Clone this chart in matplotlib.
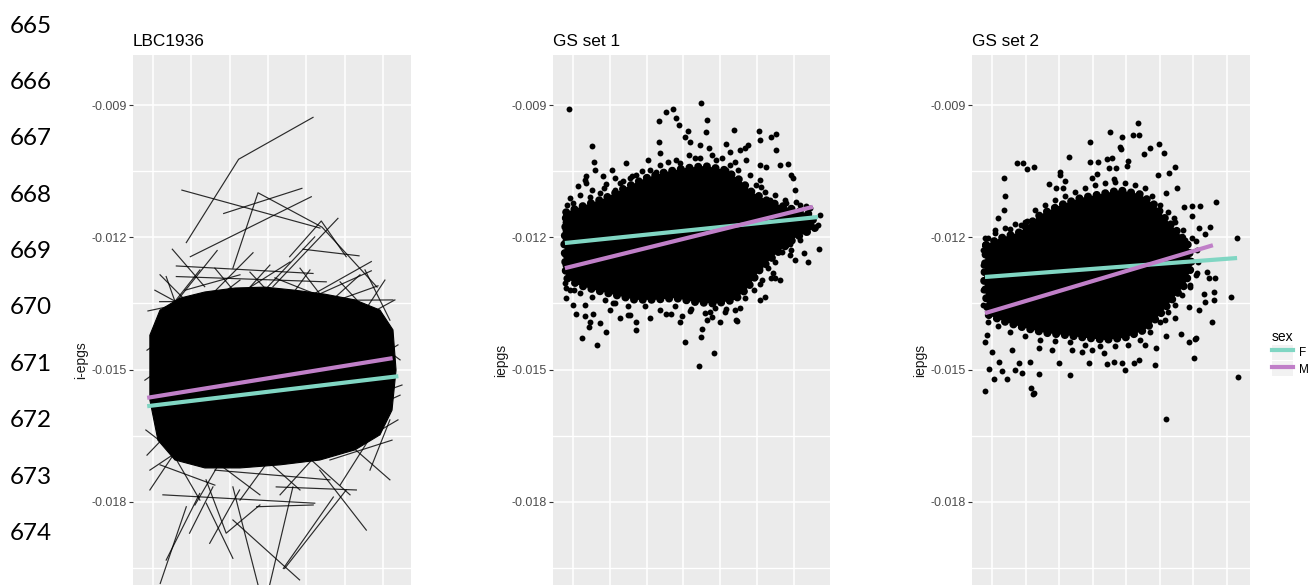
import matplotlib
matplotlib.use("Agg")
import matplotlib.pyplot as plt
import numpy as np
from matplotlib.lines import Line2D
from matplotlib.patches import Patch
from matplotlib.legend_handler import HandlerTuple
from matplotlib.ticker import FixedLocator, FuncFormatter

plt.rcParams["font.family"] = ["Liberation Sans", "DejaVu Sans"]

# ---------------------------------------------------------------------------
# Data (iepgs values in units of 1e-3, x = age)
# ---------------------------------------------------------------------------
panel_titles = ["LBC1936", "GS set 1", "GS set 2"]
y_labels = ["i-epgs", "iepgs", "iepgs"]
sex_labels = ["F", "M"]
line_numbers = ["665", "666", "667", "668", "669", "670", "671", "672", "673", "674"]
y_ticks = [-0.018, -0.015, -0.012, -0.009]
y_minor = [-0.0195, -0.0165, -0.0135, -0.0105, -0.0075]

# fitted lines per sex: (x0, x1), (y0, y1)
lbc_fit = {"F": ([69.7, 82.8], [-15.83, -15.15]), "M": ([69.7, 82.5], [-15.64, -14.74])}
gs1_fit = {"F": ([17.8, 86.6], [-12.13, -11.54]), "M": ([17.8, 85.2], [-12.70, -11.31])}
gs2_fit = {"F": ([17.9, 93.0], [-12.90, -12.47]), "M": ([17.9, 85.8], [-13.72, -12.18])}

# outline of the saturated (fully overplotted) part of each cloud
lbc_core = [(69.84, -14.22), (70.37, -13.65), (71.41, -13.38), (72.71, -13.24), (74.28, -13.15),
            (75.84, -13.13), (77.41, -13.20), (78.97, -13.29), (80.54, -13.42), (81.84, -13.65),
            (82.52, -14.10), (82.68, -15.01), (82.47, -15.92), (81.84, -16.48), (80.54, -16.82),
            (78.71, -17.05), (76.63, -17.16), (74.54, -17.23), (72.71, -17.23), (71.15, -17.05),
            (70.26, -16.60), (69.84, -15.69)]
gs1_core = [(18.1, -11.43), (23.3, -11.27), (28.7, -11.11), (34.1, -10.88), (39.6, -10.66),
            (45.0, -10.52), (50.4, -10.43), (55.9, -10.38), (61.3, -10.47), (65.4, -10.70),
            (68.6, -10.97), (73.5, -11.20), (79.0, -11.34), (84.9, -11.49), (85.8, -11.79),
            (80.3, -12.02), (74.9, -12.40), (70.8, -12.74), (67.5, -13.15), (64.0, -13.42),
            (58.6, -13.51), (53.1, -13.47), (47.7, -13.38), (42.3, -13.42), (36.8, -13.42),
            (31.4, -13.31), (26.0, -13.20), (21.4, -13.08), (18.1, -12.92), (17.6, -12.17)]
gs2_core = [(18.2, -12.17), (22.4, -12.02), (28.3, -11.88), (34.3, -11.49), (40.3, -11.27),
            (46.2, -11.11), (52.2, -11.02), (58.1, -10.93), (64.1, -11.02), (68.6, -11.27),
            (71.5, -11.56), (75.4, -11.88), (78.4, -12.17), (79.6, -12.63), (77.5, -13.08),
            (73.6, -13.42), (70.0, -13.76), (65.6, -14.10), (59.6, -14.28), (53.7, -14.33),
            (47.7, -14.28), (41.7, -14.22), (35.8, -14.17), (29.8, -14.06), (23.9, -13.92),
            (18.8, -13.76), (17.6, -12.97)]

# individual LBC1936 trajectories outside the saturated core
lbc_traj_x = [[71.74, 74.47, 78.35], [71.51, 78.71], [73.69, 77.77], [71.95, 78.26],
              [74.17, 75.48, 78.82, 81.69], [79.65, 76.26], [77.13, 78.78, 80.08], [77.83, 80.75],
              [71.01, 72.70], [73.35, 70.17], [71.22, 78.35], [71.22, 79.04], [70.35, 82.52],
              [70.69, 71.74], [81.39, 76.61], [81.39, 78.00], [81.74, 78.70], [75.22, 72.78],
              [78.44, 74.70],
              [70.69, 72.44], [70.38, 71.74], [72.77, 73.82, 75.58], [74.17, 72.78], [75.48, 74.17],
              [76.09, 77.30], [76.87, 80.08], [77.65, 74.17], [81.13, 78.70], [70.52, 78.44],
              [72.96, 74.52], [71.91, 73.13], [80.61, 76.43], [75.41, 78.36], [76.80, 79.41],
              [69.69, 72.45], [69.58, 72.19], [69.84, 72.97], [82.78, 79.76], [82.89, 80.02],
              [82.47, 79.23], [82.62, 79.76], [70.10, 72.97], [69.74, 72.45]]
lbc_traj_y = [[-12.12, -10.23, -9.28], [-10.93, -11.79], [-11.46, -10.89], [-12.44, -11.08],
              [-12.70, -10.99, -11.77, -13.13], [-11.57, -13.12], [-12.44, -11.63, -12.44], [-12.27, -12.42],
              [-12.27, -13.12], [-12.30, -14.03], [-12.65, -12.82], [-12.89, -13.01], [-13.46, -13.42],
              [-12.89, -14.18], [-12.55, -13.72], [-12.76, -13.42], [-13.10, -13.57], [-12.35, -13.42],
              [-11.99, -13.72],
              [-19.32, -17.81], [-19.85, -18.11], [-17.50, -18.71, -18.07], [-19.28, -18.03], [-19.88, -17.66],
              [-19.88, -17.66], [-19.51, -17.73], [-19.77, -18.41], [-18.64, -17.28], [-17.84, -18.03],
              [-18.94, -17.73], [-18.71, -17.66], [-17.73, -17.66], [-18.11, -18.07], [-19.51, -17.89],
              [-16.94, -15.69], [-15.24, -14.44], [-17.28, -16.37], [-14.44, -15.24], [-15.58, -16.14],
              [-16.60, -17.05], [-13.42, -14.10], [-13.20, -13.88], [-13.67, -13.42]]
# trajectories crossing the edge of the saturated core
lbc_edge_x = [[70.37, 72.45], [71.15, 74.54], [72.45, 70.37], [73.50, 76.10], [75.06, 73.23],
              [76.10, 78.19], [77.15, 75.06], [78.19, 80.80], [79.76, 77.67], [80.80, 82.10],
              [81.84, 79.76], [82.36, 81.06], [74.02, 77.15], [71.67, 74.54], [79.23, 76.36],
              [70.63, 72.45], [71.41, 69.84], [72.45, 75.58], [74.02, 72.19], [75.32, 77.67],
              [76.63, 74.54], [77.67, 80.28], [79.23, 76.63], [80.28, 82.36], [81.58, 79.76],
              [82.36, 81.32], [73.23, 79.23], [70.37, 73.23],
              [69.69, 71.93], [69.63, 71.67], [82.89, 80.80], [82.78, 80.54], [82.99, 80.80]]
lbc_edge_y = [[-13.88, -12.74], [-14.10, -12.97], [-13.76, -12.85], [-13.88, -12.63], [-13.65, -12.70],
              [-13.99, -12.74], [-13.76, -12.79], [-13.88, -12.85], [-13.88, -12.70], [-13.83, -12.97],
              [-13.99, -13.01], [-13.88, -12.74], [-13.42, -12.56], [-13.20, -12.85], [-13.42, -12.92],
              [-16.60, -17.96], [-16.71, -17.73], [-16.82, -17.84], [-16.71, -18.07], [-16.82, -17.73],
              [-16.71, -17.96], [-16.82, -17.84], [-16.60, -17.84], [-16.71, -17.50], [-16.37, -17.62],
              [-16.14, -17.28], [-17.28, -17.50], [-17.16, -17.62],
              [-14.56, -13.88], [-16.37, -17.05], [-14.78, -14.10], [-16.14, -16.71], [-15.35, -15.69]]

# GS points outside the saturated core
gs1_points = [(18.8, -9.09), (54.8, -8.95), (45.3, -9.16), (47.2, -9.09), (43.4, -9.36), (48.0, -9.30),
              (48.8, -9.45), (56.4, -9.34), (51.3, -9.59), (56.1, -9.61), (63.7, -9.57), (70.5, -9.59),
              (75.2, -9.66), (73.8, -9.73), (70.8, -9.79), (25.2, -9.93), (43.4, -9.84), (43.6, -10.09),
              (50.4, -9.73), (51.8, -9.84), (57.0, -9.98), (61.6, -9.88), (62.7, -10.07), (67.5, -9.91),
              (66.7, -9.98), (75.2, -10.02), (25.7, -10.29), (34.4, -10.32), (26.0, -10.47), (23.5, -10.61),
              (21.4, -10.84), (28.2, -10.61), (31.4, -10.66), (33.6, -10.72), (35.5, -10.66), (37.1, -10.59),
              (38.7, -10.50), (23.5, -10.77), (29.0, -10.79), (76.2, -10.36), (78.4, -10.34), (79.2, -10.59),
              (79.8, -10.66), (72.4, -10.41), (67.0, -10.25), (64.0, -10.29), (70.8, -10.70), (71.1, -10.86),
              (18.4, -11.27), (20.0, -11.22), (24.6, -11.09), (27.3, -11.00), (80.6, -11.20), (77.9, -11.22),
              (83.3, -11.29), (73.8, -11.31), (73.5, -11.15), (51.5, -10.13), (54.5, -10.20), (58.9, -10.25),
              (49.1, -10.32), (42.6, -10.52), (65.4, -10.81), (61.6, -10.47), (57.2, -10.59), (67.5, -11.15),
              (20.8, -13.74), (23.3, -13.78), (25.4, -13.74), (24.6, -13.92), (24.3, -14.03), (27.3, -13.94),
              (29.0, -14.15), (22.4, -14.28), (26.5, -14.44), (37.1, -13.92), (37.1, -14.10), (35.5, -13.76),
              (50.4, -14.37), (54.8, -14.26), (55.0, -14.08), (56.4, -13.88), (64.3, -13.88), (61.6, -13.63),
              (72.2, -13.35), (70.8, -13.06), (73.8, -12.92), (74.9, -12.92), (82.8, -12.36), (83.9, -12.56),
              (86.8, -12.27), (84.7, -11.65), (79.0, -12.40), (79.2, -12.29), (77.9, -12.18), (45.3, -13.74),
              (46.6, -13.74), (52.1, -13.63), (57.2, -13.69), (58.6, -13.60), (30.1, -13.65), (30.9, -13.49),
              (20.0, -13.54), (18.1, -13.38), (18.1, -13.15), (20.3, -13.20), (54.2, -14.92), (58.3, -14.62),
              (64.6, -13.90), (34.9, -13.76), (49.6, -13.78), (57.8, -13.81), (64.0, -13.65), (70.8, -12.67),
              (74.3, -12.81), (73.5, -12.45), (68.9, -12.56), (67.5, -12.33), (17.8, -11.83), (17.8, -12.40),
              (18.1, -12.74), (18.4, -12.17)]
gs1_edge_points = [(19.18, -11.11), (21.90, -11.04), (25.16, -10.93), (28.42, -10.88), (31.41, -10.93),
                   (32.77, -10.77), (36.03, -10.61), (38.20, -10.75), (40.92, -10.47), (43.64, -10.36),
                   (45.81, -10.29), (47.99, -10.25), (53.15, -10.20), (57.77, -10.13), (60.48, -10.20),
                   (62.66, -10.36), (64.83, -10.47), (68.09, -10.59), (69.72, -10.81), (72.17, -10.97),
                   (74.88, -11.04), (77.60, -11.15), (81.68, -11.27), (84.39, -11.34), (87.11, -11.49),
                   (86.57, -11.72), (83.03, -11.88), (81.68, -12.06), (78.96, -12.15), (76.79, -12.33),
                   (74.88, -12.56), (72.98, -12.70), (71.35, -12.97), (69.18, -13.20), (66.73, -13.38),
                   (65.37, -13.60), (61.30, -13.69), (55.86, -13.72), (51.79, -13.67), (47.71, -13.56),
                   (43.64, -13.65), (39.56, -13.56), (34.94, -13.56), (31.41, -13.49), (28.69, -13.42),
                   (25.16, -13.35), (21.90, -13.26), (19.18, -13.20), (17.83, -13.04), (17.83, -12.63),
                   (17.83, -12.06), (17.83, -11.65), (18.10, -11.49),
                   (23.3, -10.70), (30.6, -10.47), (40.4, -10.25), (54.5, -9.91), (65.4, -10.02),
                   (70.8, -10.36), (80.3, -10.93), (80.3, -12.52), (76.2, -12.97), (70.8, -13.42),
                   (59.9, -13.92), (49.1, -13.92), (40.9, -13.83), (32.8, -13.83), (23.3, -13.54)]
gs2_points = [(63.4, -9.40), (55.2, -9.62), (58.7, -9.72), (62.0, -9.68), (63.7, -9.68), (49.3, -9.85),
              (58.2, -9.95), (58.4, -10.00), (69.7, -9.89), (67.2, -9.97), (71.1, -10.08), (65.2, -10.12),
              (42.8, -10.19), (27.4, -10.31), (29.1, -10.31), (30.4, -10.46), (32.6, -10.41), (49.3, -10.29),
              (51.6, -10.29), (54.3, -10.23), (55.7, -10.21), (54.9, -10.42), (56.9, -10.42), (60.5, -10.27),
              (60.2, -10.38), (74.6, -10.41), (72.6, -10.55), (69.4, -10.59), (40.3, -10.51), (40.3, -10.59),
              (23.7, -10.66), (24.0, -11.06), (23.7, -11.37), (21.8, -11.56), (37.1, -10.80), (41.7, -10.72),
              (39.2, -10.89), (41.1, -10.89), (49.8, -10.66), (51.3, -10.56), (56.3, -10.68), (75.1, -10.89),
              (71.9, -10.99), (86.8, -11.20), (82.1, -11.29), (79.6, -11.29), (77.3, -11.31), (85.0, -11.77),
              (81.6, -11.80), (83.5, -11.93), (93.0, -12.02), (79.6, -11.52), (74.1, -11.57), (28.7, -11.72),
              (30.4, -11.62), (25.5, -11.82), (21.0, -11.83), (18.0, -12.02),
              (91.2, -13.36), (93.2, -15.16), (85.5, -13.93), (86.0, -13.42), (86.0, -13.23), (83.1, -13.29),
              (83.5, -13.46), (81.6, -13.65), (78.8, -13.57), (80.1, -14.74), (80.6, -14.31), (78.6, -14.37),
              (76.4, -14.19), (71.9, -14.24), (68.5, -14.90), (74.6, -13.84), (71.6, -13.88), (79.1, -13.12),
              (86.5, -12.92), (84.6, -12.93), (84.0, -12.79), (81.1, -12.82), (80.8, -12.08), (77.6, -12.06),
              (18.0, -15.49), (20.5, -15.22), (24.5, -15.21), (19.0, -14.99), (23.0, -15.03), (26.9, -15.01),
              (28.9, -15.08), (31.7, -15.42), (32.4, -15.54), (33.9, -15.10), (43.3, -15.12), (40.0, -14.86),
              (31.4, -14.82), (22.0, -14.82), (28.0, -14.86), (48.8, -14.86), (54.3, -14.88), (56.3, -14.83),
              (58.7, -14.86), (59.7, -15.01), (62.2, -14.86), (63.7, -14.78), (65.7, -14.44), (68.9, -14.52),
              (53.3, -14.63), (49.8, -14.56), (46.8, -14.59), (43.8, -14.56), (37.9, -14.56), (33.9, -14.52),
              (26.0, -14.56), (20.0, -14.59), (18.0, -14.37), (18.5, -14.22), (71.8, -16.13), (32.3, -15.55),
              (80.8, -14.29)]
gs2_edge_points = [(18.81, -12.02), (20.89, -11.90), (23.87, -11.79), (26.85, -11.70), (29.83, -11.65),
                   (32.81, -11.38), (35.79, -11.27), (38.77, -11.15), (41.75, -11.06), (44.72, -10.97),
                   (47.70, -10.88), (50.68, -10.81), (53.66, -10.77), (56.64, -10.75), (59.62, -10.77),
                   (62.60, -10.81), (65.58, -10.88), (67.66, -11.06), (70.05, -11.27), (72.43, -11.43),
                   (74.51, -11.65), (76.90, -11.83), (79.58, -12.02), (81.07, -12.29), (81.37, -12.56),
                   (80.77, -12.85), (78.98, -13.08), (76.60, -13.31), (74.51, -13.54), (72.43, -13.69),
                   (70.05, -13.92), (67.07, -14.15), (64.09, -14.33), (60.51, -14.44), (56.64, -14.47),
                   (52.17, -14.47), (47.70, -14.44), (43.24, -14.37), (38.77, -14.35), (34.30, -14.33),
                   (29.83, -14.24), (25.36, -14.15), (21.79, -14.01), (18.81, -13.92), (17.32, -13.54),
                   (17.32, -13.20), (17.32, -12.63), (17.32, -12.29)]

# ---------------------------------------------------------------------------
# Style
# ---------------------------------------------------------------------------
SEX_COLORS = {"F": "#80D6C3", "M": "#C07FC8"}
PANEL_BG = "#EBEBEB"
TICK_GREY = "#4D4D4D"
SCALE = 1e-3

W, H = 1313, 585
fig = plt.figure(figsize=(W / 100, H / 100), dpi=100, facecolor="white")

panel_px = [(133, 411), (553, 830), (972, 1250)]
top_px, bot_px = 55, 665
xlims = [(68.96, 83.46), (14.57, 89.84), (14.04, 96.85)]
x_grid = [[70, 72, 74, 76, 78, 80, 82],
          [20, 30, 40, 50, 60, 70, 80],
          [20, 30, 40, 50, 60, 70, 80, 90]]
ylim = (-0.021699, -0.007866)


def style_axes(ax, title, ylabel, xlim, xgrid):
    ax.set_facecolor(PANEL_BG)
    for sp in ax.spines.values():
        sp.set_visible(False)
    ax.set_xlim(*xlim)
    ax.set_ylim(*ylim)
    ax.yaxis.set_major_locator(FixedLocator(y_ticks))
    ax.yaxis.set_minor_locator(FixedLocator(y_minor))
    ax.xaxis.set_major_locator(FixedLocator(xgrid))
    ax.yaxis.set_major_formatter(FuncFormatter(lambda v, _: f"{v:.3f}"))
    ax.grid(which="major", color="white", lw=1.1)
    ax.grid(which="minor", axis="y", color="white", lw=1.0)
    ax.set_axisbelow(True)
    ax.tick_params(axis="y", which="major", length=3, width=0.8, color="#333333",
                   labelsize=9, labelcolor=TICK_GREY, pad=1.5)
    ax.tick_params(axis="y", which="minor", length=0)
    ax.tick_params(axis="x", which="both", length=0, labelbottom=False)
    ax.set_title(title, loc="left", fontsize=12.4, pad=6.5, color="black")
    ax.set_ylabel(ylabel, fontsize=10, labelpad=2, color="#1A1A1A")


def draw_fit(ax, fit):
    for sex in sex_labels:
        xs, ys = fit[sex]
        ax.plot(xs, np.array(ys) * SCALE, color=SEX_COLORS[sex], lw=3,
                solid_capstyle="butt", zorder=6)


axes = []
for i, (l, r) in enumerate(panel_px):
    ax = fig.add_axes([l / W, 1 - bot_px / H, (r - l) / W, (bot_px - top_px) / H])
    style_axes(ax, panel_titles[i], y_labels[i], xlims[i], x_grid[i])
    axes.append(ax)

# LBC1936: trajectories
ax = axes[0]
cx, cy = zip(*lbc_core)
ax.fill(cx, np.array(cy) * SCALE, color="black", lw=0.8, zorder=2)
for tx, ty in zip(lbc_traj_x + lbc_edge_x, lbc_traj_y + lbc_edge_y):
    ax.plot(tx, np.array(ty) * SCALE, color="black", lw=0.85, alpha=0.82, zorder=3)
draw_fit(ax, lbc_fit)

# GS sets: scatter
for ax, core, pts, fit in [(axes[1], gs1_core, gs1_points + gs1_edge_points, gs1_fit),
                           (axes[2], gs2_core, gs2_points + gs2_edge_points, gs2_fit)]:
    cx, cy = zip(*core)
    cy = np.array(cy) * SCALE
    ax.fill(cx, cy, color="black", lw=0, zorder=2)
    # beaded outline so the saturated region ends in dots like the scatter
    ax.plot(list(cx) + [cx[0]], list(cy) + [cy[0]], color="black", lw=5.5,
            ls=(0, (0.05, 1.1)), dash_capstyle="round", zorder=2)
    px, py = zip(*pts)
    ax.scatter(px, np.array(py) * SCALE, s=18, color="black", lw=0, zorder=3)
    draw_fit(ax, fit)

# legend
handles = [(Patch(facecolor="#F2F2F2", edgecolor="none"),
            Line2D([], [], color=SEX_COLORS[s], lw=3)) for s in sex_labels]
fig.legend(handles, sex_labels, title="sex", loc="upper left",
           bbox_to_anchor=(1268 / W, 1 - 326 / H), frameon=False,
           handler_map={tuple: HandlerTuple(ndivide=1, pad=0)},
           fontsize=8.5, title_fontsize=10, handlelength=1.85, handleheight=1.6,
           handletextpad=0.5, labelspacing=0.1, borderaxespad=0, borderpad=0.3,
           alignment="left")

# manuscript line numbers on the left margin
for k, lab in enumerate(line_numbers):
    base = 32.7 + k * 56.35
    fig.text(10 / W, 1 - base / H, lab, fontsize=17.5, family="Lato",
             va="baseline", ha="left", color="black")

fig.savefig("out.png", dpi=100, facecolor="white")
